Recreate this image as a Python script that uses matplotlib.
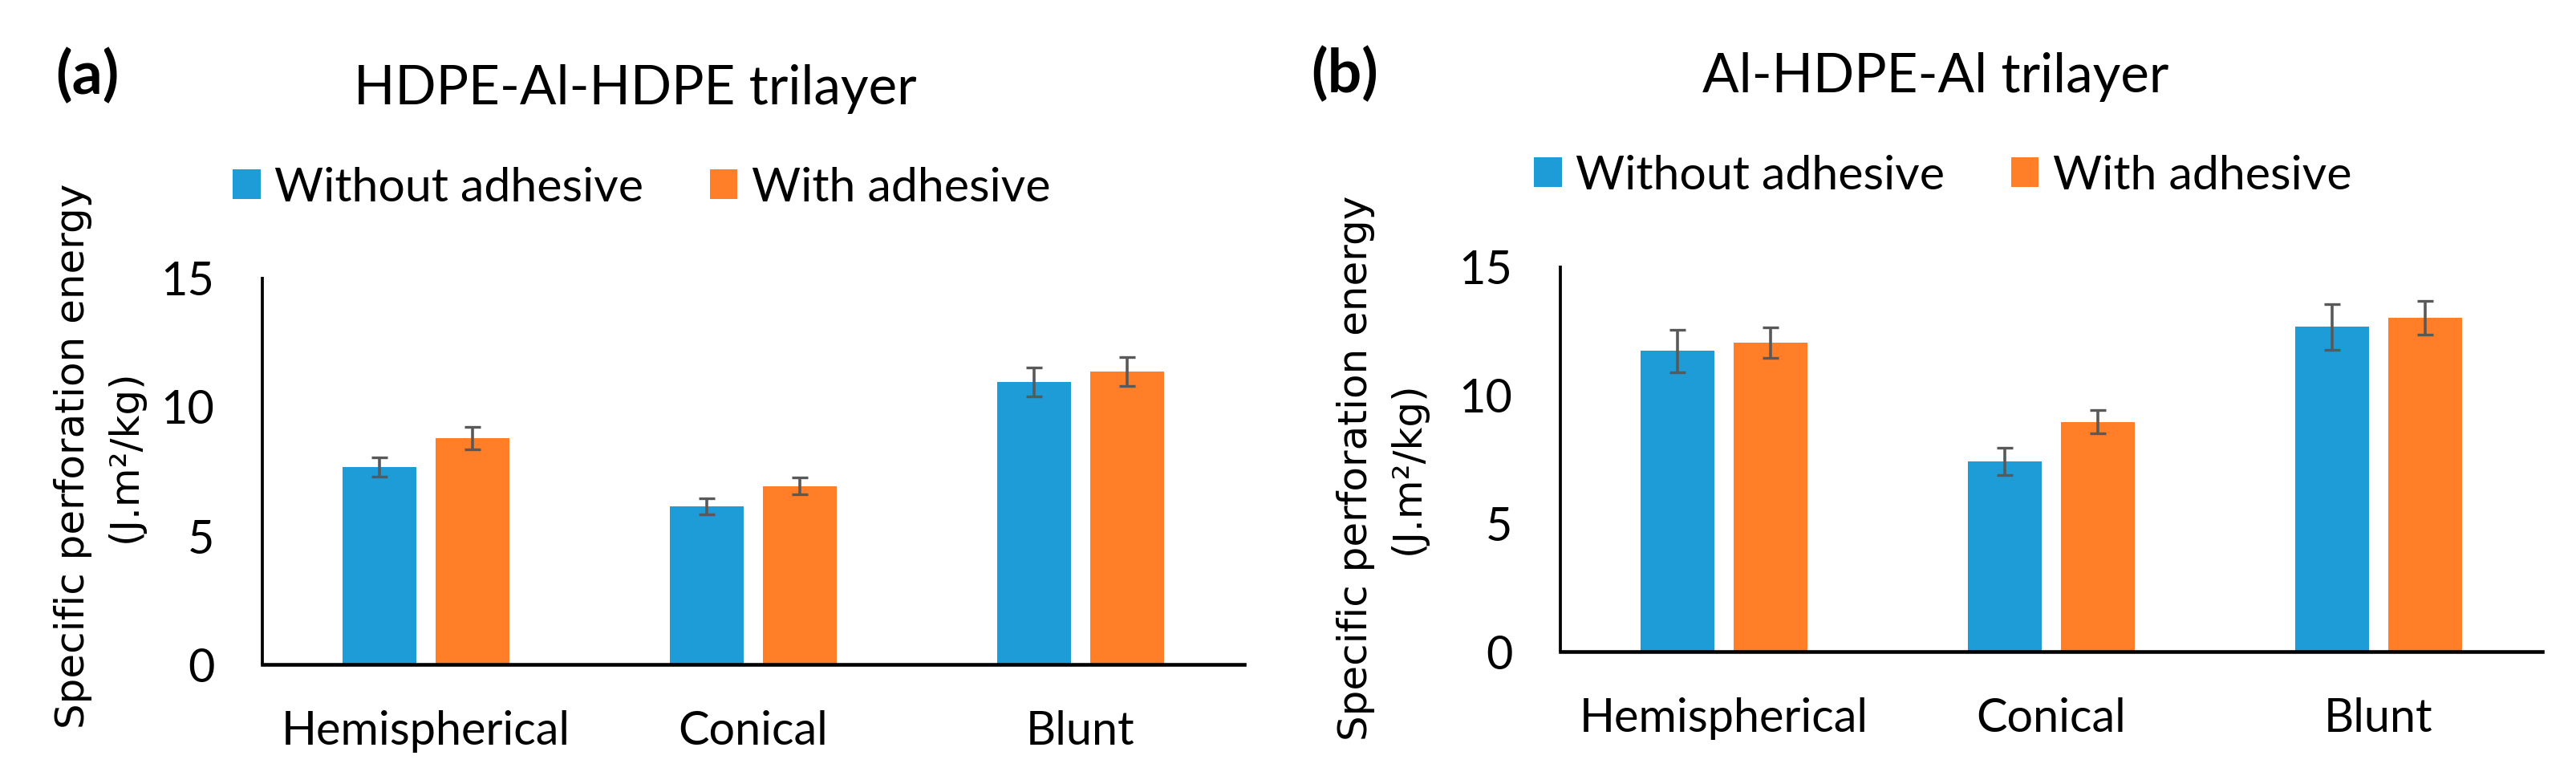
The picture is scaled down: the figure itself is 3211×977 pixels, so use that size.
import matplotlib
matplotlib.use("Agg")
import matplotlib.pyplot as plt
import numpy as np
from matplotlib.patches import Patch

categories = ["Hemispherical", "Conical", "Blunt"]
series_names = ["Without adhesive", "With adhesive"]

a_without = [7.64, 6.11, 10.93]
a_without_err = [0.38, 0.31, 0.55]
a_with = [8.76, 6.90, 11.33]
a_with_err = [0.43, 0.33, 0.56]

b_without = [11.70, 7.39, 12.63]
b_without_err = [0.83, 0.53, 0.89]
b_with = [12.01, 8.93, 12.98]
b_with_err = [0.60, 0.45, 0.65]

yticks = [0, 5, 10, 15]

BLUE = "#1D9CD8"
ORANGE = "#FF7E27"
ERR = "#595959"
MAIN_FONT = ["Lato", "DejaVu Sans"]
YLAB_FONT = ["DejaVu Sans"]

W, H = 3212, 978
DPI = 100
fig = plt.figure(figsize=(W / DPI, H / DPI), dpi=DPI)
plt.rcParams['font.family'] = MAIN_FONT

def fx(px):
    return px / W

def fy(py):
    return 1 - py / H

panels = [
    dict(left=327, right=1551, top=346, bottom=829,
         without=a_without, without_err=a_without_err,
         with_=a_with, with_err=a_with_err,
         title="HDPE-Al-HDPE trilayer", title_x=792, title_y=130,
         tag="(a)", tag_x=69, tag_y=117,
         leg_x=800, leg_y=234.5, ylab_x=180, ylab_y=568),
    dict(left=1945, right=3169, top=332.4, bottom=813,
         without=b_without, without_err=b_without_err,
         with_=b_with, with_err=b_with_err,
         title="Al-HDPE-Al trilayer", title_x=2413, title_y=115,
         tag="(b)", tag_x=1634, tag_y=115,
         leg_x=2422, leg_y=219.6, ylab_x=1779, ylab_y=583.5),
]

x = np.arange(len(categories))
bw = 0.225
off = 0.142
TICK_FS = 41.5

for p in panels:
    ax = fig.add_axes([fx(p['left']), fy(p['bottom']),
                       fx(p['right'] - p['left']), (p['bottom'] - p['top']) / H])
    ax.bar(x - off, p['without'], bw, color=BLUE, zorder=2)
    ax.bar(x + off, p['with_'], bw, color=ORANGE, zorder=2)
    for xs, vals, errs in [(x - off, p['without'], p['without_err']),
                           (x + off, p['with_'], p['with_err'])]:
        ax.errorbar(xs, vals, yerr=errs, fmt='none', ecolor=ERR,
                    elinewidth=2.6, capsize=7.5, capthick=2.4, zorder=3)
    ax.set_xlim(-0.5, 2.5)
    ax.set_ylim(0, 15)
    ax.set_yticks(yticks)
    ax.set_yticklabels([str(t) for t in yticks], fontsize=TICK_FS)
    ax.set_xticks(x)
    ax.set_xticklabels(categories, fontsize=TICK_FS)
    ax.tick_params(axis='y', length=0, pad=43)
    ax.tick_params(axis='x', length=0, pad=40)
    for s in ['top', 'right']:
        ax.spines[s].set_visible(False)
    ax.spines['left'].set_linewidth(2.7)
    ax.spines['bottom'].set_linewidth(3.3)
    ax.spines['left'].set_capstyle('butt')
    ax.set_ylabel("Specific perforation energy\n(J.m\u00b2/kg)",
                  family=YLAB_FONT, fontsize=36, linespacing=1.45)
    ax.yaxis.set_label_coords((p['ylab_x'] - p['left']) / (p['right'] - p['left']),
                              (p['bottom'] - p['ylab_y']) / (p['bottom'] - p['top']))
    fig.text(fx(p['title_x']), fy(p['title_y']), p['title'], ha='center',
             va='baseline', fontsize=48.5)
    fig.text(fx(p['tag_x']), fy(p['tag_y']), p['tag'], ha='left',
             va='baseline', fontsize=54, fontweight='bold')
    handles = [Patch(facecolor=BLUE, edgecolor='none'),
               Patch(facecolor=ORANGE, edgecolor='none')]
    fig.legend(handles, series_names, loc='center',
               bbox_to_anchor=(fx(p['leg_x']), fy(p['leg_y'])),
               ncol=2, frameon=False, fontsize=42.5,
               handlelength=0.58, handleheight=0.58, handletextpad=0.3,
               columnspacing=1.4, borderpad=0, borderaxespad=0)

fig.savefig("out.png", dpi=DPI, facecolor='white')
